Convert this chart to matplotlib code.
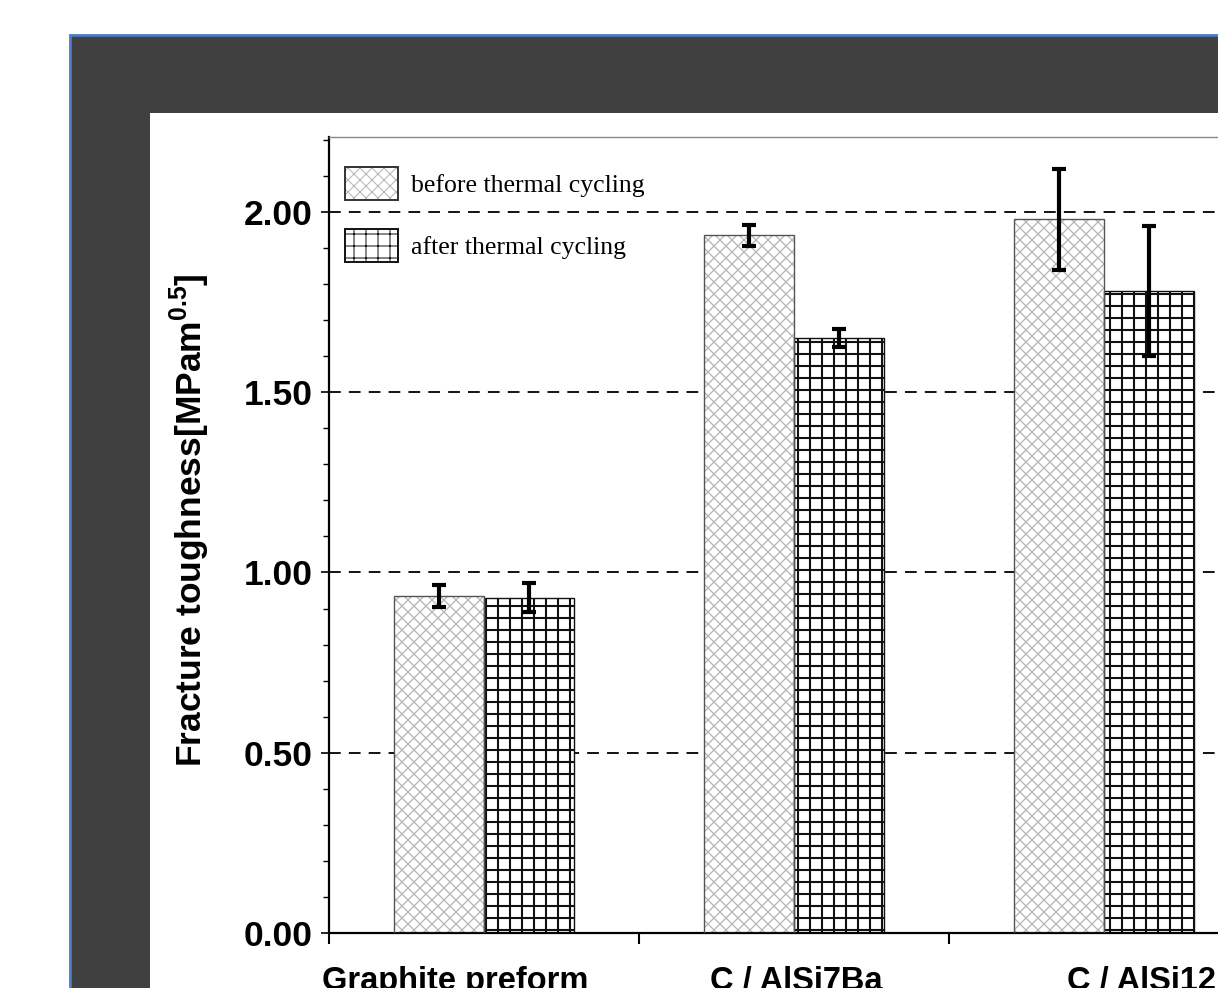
import matplotlib
matplotlib.use("Agg")
import matplotlib.pyplot as plt
from matplotlib.patches import Rectangle, Patch
from matplotlib.ticker import MultipleLocator
from matplotlib.transforms import ScaledTranslation
from matplotlib.legend_handler import HandlerTuple
import numpy as np

# ---- data ----
categories = ["Graphite preform", "C / AlSi7Ba", "C / AlSi12"]
before_vals = [0.935, 1.935, 1.98]
before_err = [0.03, 0.03, 0.14]
after_vals = [0.93, 1.65, 1.78]
after_err = [0.04, 0.025, 0.18]
legend_labels = ["before thermal cycling", "after thermal cycling"]
y_ticks = [0.0, 0.5, 1.0, 1.5, 2.0]
y_ticklabels = ["0.00", "0.50", "1.00", "1.50", "2.00"]

plt.rcParams["mathtext.fontset"] = "custom"
plt.rcParams["mathtext.rm"] = "Liberation Sans"
plt.rcParams["mathtext.bf"] = "Liberation Sans:bold"

# figure rendered at 72 dpi so that the hatch cell is 72 px; S converts sizes
DPI = 72
S = 100 / DPI
W, H = 1218, 988
fig = plt.figure(figsize=(W / DPI, H / DPI), dpi=DPI)
fig.patch.set_facecolor("white")

def fx(px):
    return px / W

def fy(py):
    return (H - py) / H

# dark frame with blue border
frame = Rectangle((fx(70), -0.1), 1.2, fy(35) + 0.1, transform=fig.transFigure,
                  facecolor="#404040", edgecolor="#4a7bc4", linewidth=2.0 * S, zorder=-20)
fig.patches.append(frame)
inner = Rectangle((fx(150), -0.1), 1.2, fy(113) + 0.1, transform=fig.transFigure,
                  facecolor="white", edgecolor="none", zorder=-19)
fig.patches.append(inner)

ngroups = 3
ax_left = 329
ax_right = ax_left + 310 * ngroups
ax_top, ax_bottom = 137, 933
ax = fig.add_axes([fx(ax_left), fy(ax_bottom), (ax_right - ax_left) / W, (ax_bottom - ax_top) / H])
ax.set_facecolor("white")

x = np.arange(ngroups) + 0.5
bw = 0.29

# grid lines
for yv in y_ticks[1:]:
    ax.axhline(yv, color="black", lw=1.3 * S, dashes=(6.5, 4.5), zorder=0)

# before bars: grey stipple hatch + outline
with plt.rc_context({"hatch.linewidth": 0.9 * S}):
    ax.bar(x - bw / 2, before_vals, bw, color="white", edgecolor="#b4b4b4", hatch="xx", lw=0, zorder=2)
    before_hatch = Patch(facecolor="white", edgecolor="#b4b4b4", hatch="xx", lw=0)
ax.bar(x - bw / 2, before_vals, bw, color="none", edgecolor="#555555", lw=1.0 * S, zorder=3)
before_outline = Patch(facecolor="none", edgecolor="#333333", lw=1.4 * S)
# after bars: grid hatch
with plt.rc_context({"hatch.linewidth": 1.5 * S}):
    ax.bar(x + bw / 2, after_vals, bw, color="white", edgecolor="#111111", hatch="+", lw=1.0 * S, zorder=2)
    after_handle = Patch(facecolor="white", edgecolor="#111111", hatch="+", lw=1.4 * S)

ax.errorbar(x - bw / 2, before_vals, yerr=before_err, fmt="none", ecolor="black",
            elinewidth=3 * S, capsize=5 * S, capthick=3 * S, zorder=4)
ax.errorbar(x + bw / 2, after_vals, yerr=after_err, fmt="none", ecolor="black",
            elinewidth=3 * S, capsize=5 * S, capthick=3 * S, zorder=4)

ax.set_xlim(0, ngroups)
ax.set_ylim(0, 2.208)

ax.set_yticks(y_ticks)
ax.set_yticklabels(y_ticklabels, fontfamily="Liberation Sans", fontweight="bold", fontsize=25.5 * S)
ax.yaxis.set_minor_locator(MultipleLocator(0.1))
ax.tick_params(axis="y", which="major", length=6 * S, width=1.2 * S, pad=6 * S, direction="out")
ax.tick_params(axis="y", which="minor", length=4 * S, width=1.0 * S, direction="out")

ax.set_xticks(np.arange(ngroups + 1))
ax.set_xticklabels([])
ax.tick_params(axis="x", which="major", length=8 * S, width=1.5 * S, direction="out")
ax.set_xticks(x, categories, minor=True)
ax.tick_params(axis="x", which="minor", length=0, pad=24 * S)
xlabels = ax.get_xticklabels(minor=True)
label_shift_px = [-29, 2, 38]
for t, dx in zip(xlabels, label_shift_px):
    t.set_fontfamily("Liberation Sans")
    t.set_fontweight("bold")
    t.set_fontsize(23.5 * S)
    t.set_transform(t.get_transform() + ScaledTranslation(dx / DPI, 0, fig.dpi_scale_trans))

ax.set_ylabel("Fracture toughness[MPam$^{\\mathbf{0.5}}$]", fontfamily="Liberation Sans",
              fontweight="bold", fontsize=25.5 * S)
ax.yaxis.set_label_coords((212 - ax_left) / (ax_right - ax_left), 0.519)

for s in ["left", "bottom"]:
    ax.spines[s].set_linewidth(1.6 * S)
    ax.spines[s].set_color("black")
ax.spines["top"].set_color("#888888")
ax.spines["top"].set_linewidth(1.0 * S)
ax.spines["right"].set_visible(False)

handles = [(before_hatch, before_outline), after_handle]
leg = ax.legend(handles, legend_labels, loc="upper left",
                bbox_to_anchor=(16 / (ax_right - ax_left), 1 - 30 / (ax_bottom - ax_top)),
                frameon=False, borderaxespad=0, borderpad=0, handlelength=2.08, handleheight=1.6,
                handletextpad=0.5, labelspacing=1.12,
                handler_map={tuple: HandlerTuple(ndivide=1, pad=0)},
                prop={"family": "Liberation Serif", "size": 18.5 * S})

fig.savefig("out.png", dpi=DPI)
